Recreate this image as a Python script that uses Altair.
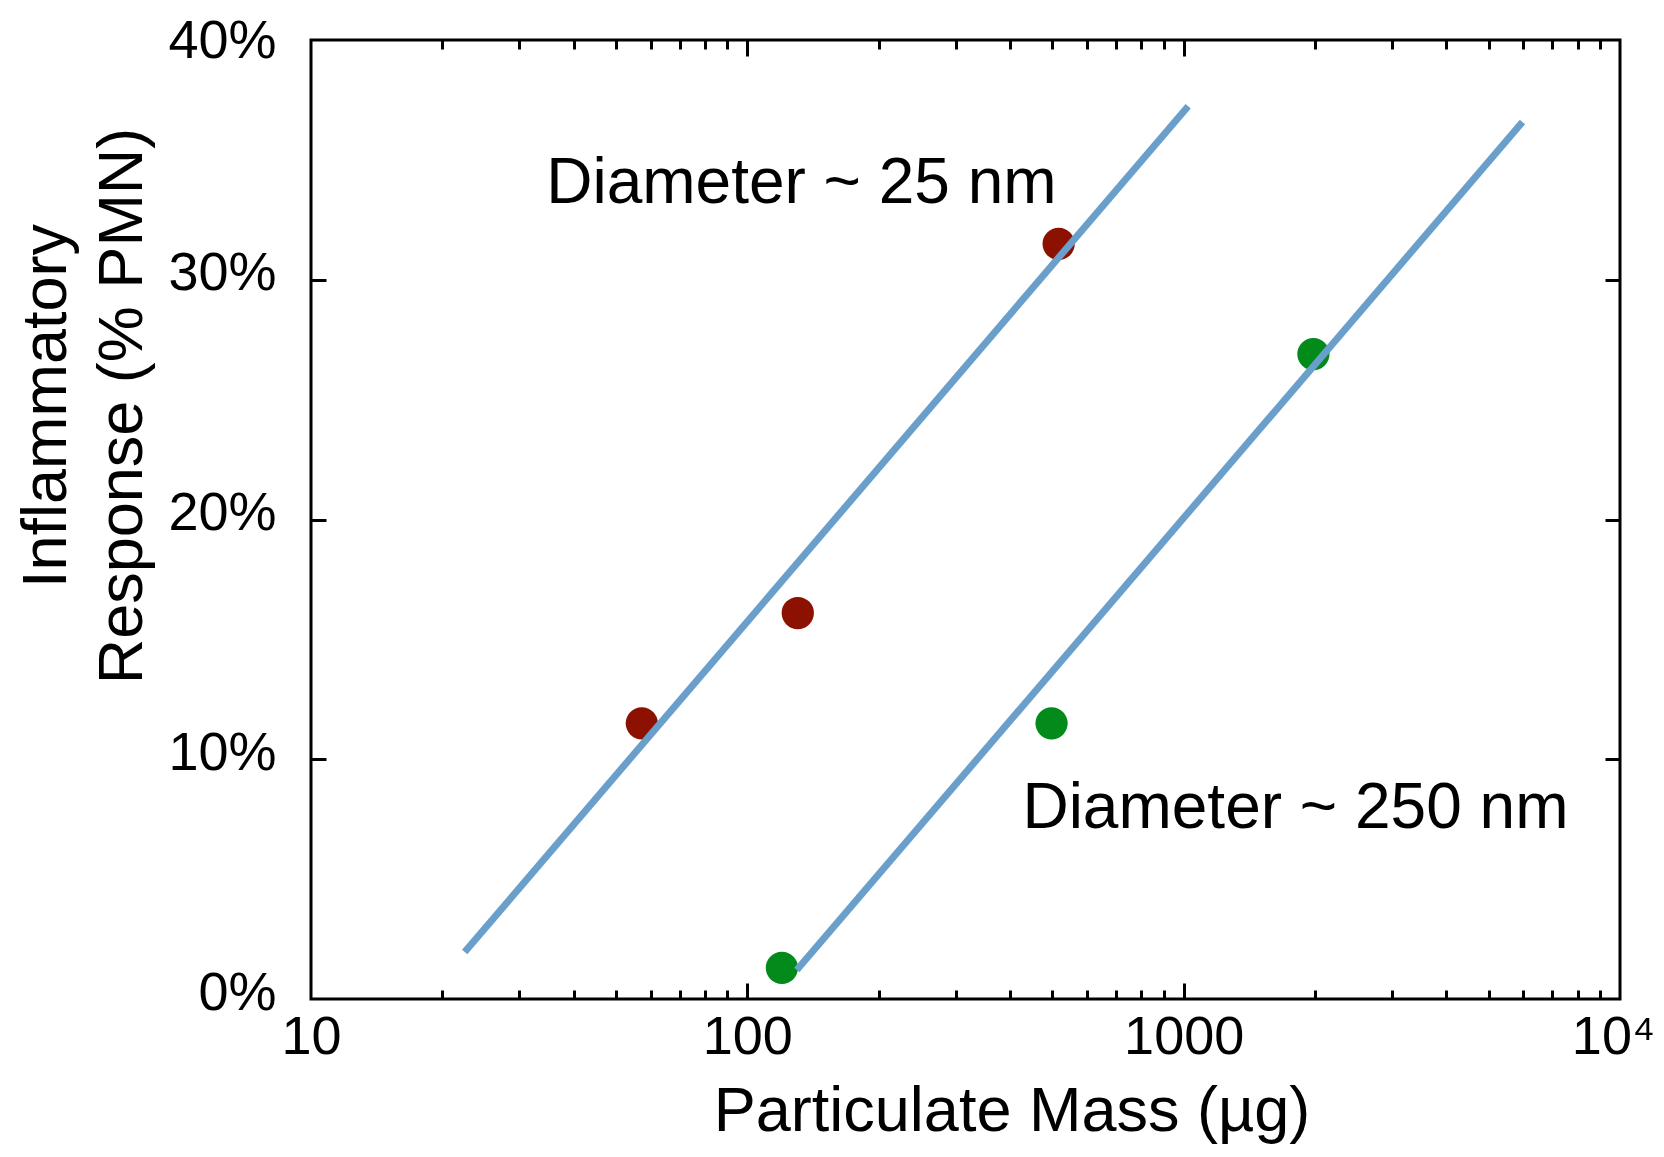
import altair as alt
import pandas as pd

# ---- data ----
mass_25 = [57.3, 130.5, 517]
resp_25 = [11.5, 16.1, 31.5]
mass_250 = [120, 498, 1983]
resp_250 = [1.3, 11.5, 26.9]

fit_mass_25 = [22.5, 1024]
fit_resp_25 = [1.96, 37.24]
fit_mass_250 = [129.8, 5977]
fit_resp_250 = [1.21, 36.58]

label_text = ["Diameter ~ 25 nm", "Diameter ~ 250 nm"]
label_mass = [34.6, 427]
label_resp = [33.2, 7.13]

x_label_values = [10, 100, 1000, 10000]
x_major_ticks = [100, 1000]
x_minor_ticks = [20, 30, 40, 50, 60, 70, 80, 90,
                 200, 300, 400, 500, 600, 700, 800, 900,
                 2000, 3000, 4000, 5000, 6000, 7000, 8000, 9000]
y_label_values = [0, 10, 20, 30, 40]
y_ticks = [10, 20, 30]

red = "#8c1100"
green = "#028a1b"
line_color = "#6a9fcb"
FONT = "Liberation Sans"

W, H = 1309, 959

pts25 = pd.DataFrame({"mass": mass_25, "resp": resp_25})
pts250 = pd.DataFrame({"mass": mass_250, "resp": resp_250})
fit25 = pd.DataFrame({"mass": fit_mass_25, "resp": fit_resp_25})
fit250 = pd.DataFrame({"mass": fit_mass_250, "resp": fit_resp_250})
labels = pd.DataFrame({"mass": label_mass, "resp": label_resp, "text": label_text})

xs = alt.Scale(type="log", domain=[10, 10000], nice=False)
ys = alt.Scale(domain=[0, 40], nice=False, zero=False)


def tick_axis(orient, offset, values, size):
    return alt.Axis(orient=orient, offset=offset, values=values, tickSize=size,
                    tickWidth=3, tickColor="black", ticks=True, labels=False,
                    domain=False, grid=False, title=None)


x_label_axis = alt.Axis(
    orient="bottom", values=x_label_values, ticks=False, tickSize=0, domain=False,
    grid=False, labelPadding=54, labelBaseline="alphabetic", labelAlign="center",
    labelFlush=False, labelOverlap=False,
    labelOffset={"condition": {"test": "datum.value >= 10000", "value": -7}, "value": 0},
    labelExpr="datum.value >= 10000 ? '10\u2074' : format(datum.value, 'd')",
    title="Particulate Mass (µg)", titleX=700.5, titleY=131,
    titleBaseline="alphabetic", titleAlign="center",
)
y_label_axis = alt.Axis(
    orient="left", values=y_label_values, ticks=False, tickSize=0, domain=False,
    grid=False, labelPadding=35, labelAlign="right", labelBaseline="alphabetic",
    labelOffset={"condition": {"test": "datum.value >= 40", "value": 17}, "value": 10},
    labelFlush=False, labelOverlap=False,
    labelExpr="datum.value + '%'",
    title=["Inflammatory", "Response (% PMN)"], titleAngle=270,
    titleX=-246, titleY=365.5, titleAlign="center", titleBaseline="alphabetic",
    titleLineHeight=76,
)

# points (drawn first, under the lines)
red_pts = alt.Chart(pts25).mark_circle(size=1040, opacity=1, color=red).encode(
    x=alt.X("mass:Q", scale=xs, axis=x_label_axis),
    y=alt.Y("resp:Q", scale=ys, axis=y_label_axis),
)
green_pts = alt.Chart(pts250).mark_circle(size=1040, opacity=1, color=green).encode(
    x=alt.X("mass:Q", scale=xs, axis=tick_axis("top", -H, x_major_ticks, 16)),
    y=alt.Y("resp:Q", scale=ys, axis=tick_axis("right", -W, y_ticks, 15)),
)
line25 = alt.Chart(fit25).mark_line(color=line_color, strokeWidth=7).encode(
    x=alt.X("mass:Q", scale=xs, axis=tick_axis("top", -H, x_minor_ticks, 9)),
    y=alt.Y("resp:Q", scale=ys, axis=tick_axis("left", -W, y_ticks, 15)),
)
line250 = alt.Chart(fit250).mark_line(color=line_color, strokeWidth=7).encode(
    x=alt.X("mass:Q", scale=xs, axis=tick_axis("bottom", -H, x_major_ticks, 16)),
    y=alt.Y("resp:Q", scale=ys, axis=None),
)
texts = alt.Chart(labels).mark_text(
    align="left", baseline="alphabetic", font=FONT, fontSize=64, color="black"
).encode(
    x=alt.X("mass:Q", scale=xs, axis=tick_axis("bottom", -H, x_minor_ticks, 9)),
    y=alt.Y("resp:Q", scale=ys, axis=None),
    text="text:N",
)

chart = (
    alt.layer(red_pts, green_pts, line25, line250, texts)
    .resolve_axis(x="independent", y="independent")
    .properties(
        width=W, height=H,
        autosize=alt.AutoSizeParams(type="none"),
        padding={"left": 303, "top": 32, "right": 36, "bottom": 146},
        background="white",
    )
    .configure_view(stroke="black", strokeWidth=3)
    .configure_axis(
        labelFont=FONT, labelFontSize=54, labelColor="black",
        titleFont=FONT, titleFontSize=63, titleColor="black", titleFontWeight="normal",
    )
)

chart.save("out.html", embed_options={"renderer": "svg", "actions": False})
